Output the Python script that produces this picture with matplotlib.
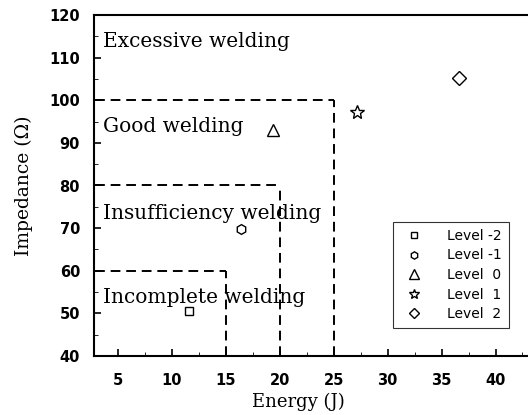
import matplotlib
matplotlib.use('Agg')
import matplotlib.pyplot as plt
from matplotlib.ticker import MultipleLocator

# data
levels = ['Level -2', 'Level -1', 'Level  0', 'Level  1', 'Level  2']
energy = [11.6, 16.4, 19.4, 27.2, 36.6]
impedance = [50.5, 69.8, 93.0, 97.2, 105.2]
markers = ['s', 'h', '^', '*', 'D']
sizes = [6, 7, 9, 10, 7]

zone_energy = [15, 20, 25]
zone_impedance = [60, 80, 100]
zone_names = ['Incomplete welding', 'Insufficiency welding', 'Good welding', 'Excessive welding']
zone_text_y = [53.8, 73.5, 93.8, 113.8]

serif = ['DejaVu Serif']

fig = plt.figure(figsize=(5.28, 4.15), dpi=100)
ax = fig.add_axes([94 / 528, 1 - 356 / 415, 1 - 94 / 528 + 0.01, 341 / 415])

for e, z in zip(zone_energy, zone_impedance):
    ax.plot([0, e], [z, z], 'k--', lw=1.4, dashes=(5, 3))
    ax.plot([e, e], [40, z], 'k--', lw=1.4, dashes=(5, 3))

for name, ty in zip(zone_names, zone_text_y):
    ax.text(3.6, ty, name, family=serif, fontsize=14.5, va='center')

for i in range(len(levels)):
    ax.plot(energy[i], impedance[i], linestyle='none', marker=markers[i],
            markersize=sizes[i], markerfacecolor='white', markeredgecolor='black',
            markeredgewidth=1, label=levels[i])

ax.set_xlim(2.8, 43.5)
ax.set_ylim(40, 120)
ax.xaxis.set_major_locator(MultipleLocator(5))
ax.xaxis.set_minor_locator(MultipleLocator(2.5))
ax.yaxis.set_major_locator(MultipleLocator(10))
ax.yaxis.set_minor_locator(MultipleLocator(5))
ax.tick_params(which='both', direction='in', top=False, right=False)
ax.tick_params(which='major', length=5, width=1.2, labelsize=10.5)
ax.tick_params(axis='x', which='major', pad=12)
ax.tick_params(axis='y', which='major', pad=10)
ax.tick_params(which='minor', length=3)
ax.set_xticks([5, 10, 15, 20, 25, 30, 35, 40])
for lab in ax.get_xticklabels() + ax.get_yticklabels():
    lab.set_fontweight('bold')
    lab.set_family('DejaVu Sans')
ax.spines['right'].set_visible(False)
for s in ['left', 'bottom', 'top']:
    ax.spines[s].set_linewidth(1.5)

ax.set_xlabel('Energy (J)', family=serif, fontsize=13)
ax.xaxis.set_label_coords(0.465, -0.108)
ax.set_ylabel('Impedance (Ω)', family=serif, fontsize=13.5, labelpad=12)

leg = ax.legend(loc='lower right', bbox_to_anchor=(0.945, 0.082), frameon=True, fancybox=False,
                edgecolor='black', fontsize=10, handletextpad=1.4, labelspacing=0.4,
                borderpad=0.5, borderaxespad=0, markerscale=0.75)
leg.get_frame().set_linewidth(0.8)

fig.savefig('out.png', dpi=100)
